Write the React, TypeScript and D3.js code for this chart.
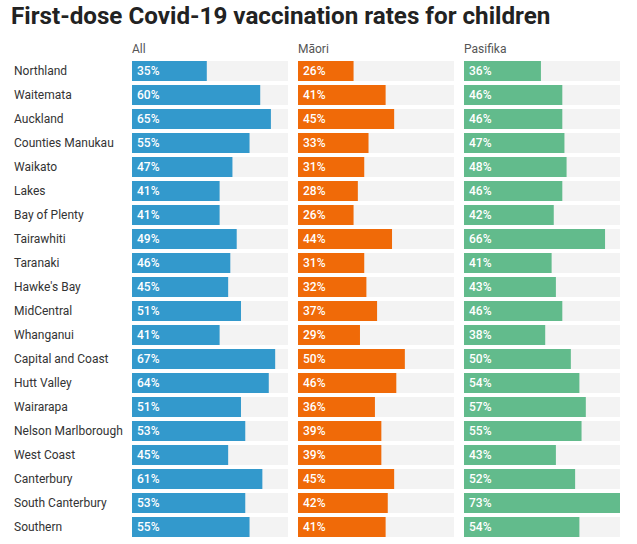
import React from "react";
import * as d3 from "d3";

const regions = ["Northland","Waitemata","Auckland","Counties Manukau","Waikato","Lakes","Bay of Plenty","Tairawhiti","Taranaki","Hawke's Bay","MidCentral","Whanganui","Capital and Coast","Hutt Valley","Wairarapa","Nelson Marlborough","West Coast","Canterbury","South Canterbury","Southern"];
const allRates = [35,60,65,55,47,41,41,49,46,45,51,41,67,64,51,53,45,61,53,55];
const maoriRates = [26,41,45,33,31,28,26,44,31,32,37,29,50,46,36,39,39,45,42,41];
const pasifikaRates = [36,46,46,47,48,46,42,66,41,43,46,38,50,54,57,55,43,52,73,54];
const groupNames = ["All","Māori","Pasifika"];
const groupColors = ["#3399cc","#f06a08","#62bb8c"];
const title = "First-dose Covid-19 vaccination rates for children";

export default function App() {
  const W = 637, H = 544;
  const series = [allRates, maoriRates, pasifikaRates];
  const panelX = d3.scaleBand<number>().domain([0,1,2]).range([132, 620]).paddingInner(10/166);
  const y = d3.scaleBand<string>().domain(regions).range([61, 61 + 24*20 - 4]).paddingInner(4/24).paddingOuter(0);
  const maxV = d3.max(series.flat()) as number;
  const x = d3.scaleLinear().domain([0, maxV]).range([0, panelX.bandwidth()]);
  const font = "Roboto, 'Noto Sans', sans-serif";
  return (
    <svg width={W} height={H} style={{position:"absolute", left:0, top:0, display:"block"}} fontFamily={font}>
      <rect width={W} height={H} fill="#fff" />
      <text x={11} y={24} fontSize={24.2} fontWeight={700} fill="#222">{title}</text>
      {regions.map((r) => (
        <text key={r} x={14} y={(y(r) as number) + y.bandwidth()/2} dy="0.35em" fontSize={12} fill="#333">{r}</text>
      ))}
      {series.map((vals, gi) => {
        const px = panelX(gi) as number;
        return (
          <g key={gi} transform={`translate(${px},0)`}>
            <text x={0} y={53} fontSize={12} fill="#555">{groupNames[gi]}</text>
            {regions.map((r, i) => {
              const yy = y(r) as number;
              return (
                <g key={r}>
                  <rect x={0} y={yy} width={panelX.bandwidth()} height={y.bandwidth()} fill="#f3f3f3" />
                  <rect x={0} y={yy} width={x(vals[i])} height={y.bandwidth()} fill={groupColors[gi]} />
                  <text x={5} y={yy + y.bandwidth()/2} dy="0.36em" fontSize={12} fontWeight={500} fill="#fff">{vals[i]}%</text>
                </g>
              );
            })}
          </g>
        );
      })}
    </svg>
  );
}
